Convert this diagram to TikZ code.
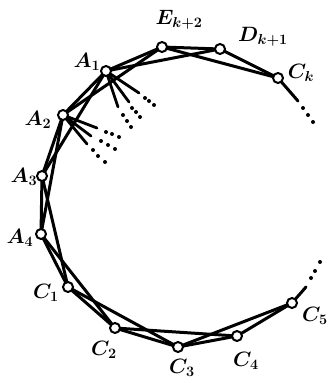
\documentclass[tikz,border=0pt]{standalone}
\begin{document}
\begin{tikzpicture}[x=1pt,y=-1pt,
  vtx/.style={circle,draw=black,fill=white,line width=2pt,inner sep=0pt,minimum size=10pt},
  edge/.style={line width=3pt,line cap=round},
  fan/.style={line width=2.8pt,line cap=round},
  dot/.style={circle,fill=black,inner sep=0pt,minimum size=4pt},
  lab/.style={font=\fontsize{22}{26}\selectfont\boldmath,inner sep=0pt}]
\useasboundingbox (0,0) rectangle (330,383);
% vertices positions
\coordinate (pCk) at (278,78);
\coordinate (pD) at (220,49);
\coordinate (pE) at (162,47);
\coordinate (pA1) at (106,71);
\coordinate (pA2) at (63,115);
\coordinate (pA3) at (42,176);
\coordinate (pA4) at (41,234);
\coordinate (pC1) at (68,287);
\coordinate (pC2) at (115,328);
\coordinate (pC3) at (178,347);
\coordinate (pC4) at (237,336);
\coordinate (pC5) at (292,303);
% edges
\foreach \a/\b in {pCk/pD,pCk/pE,pD/pE,pD/pA1,pE/pA1,pE/pA2,pA1/pA2,pA1/pA3,pA2/pA3,pA2/pA4,pA3/pA4,pA3/pC1,pA4/pC1,pA4/pC2,pC1/pC2,pC1/pC3,pC2/pC3,pC2/pC4,pC3/pC4,pC3/pC5,pC4/pC5}
  \draw[edge] (\a) -- (\b);
% tails
\coordinate (tk) at (298,101);
\coordinate (t5) at (306,287);
\draw[edge] (pCk) -- (tk);
\draw[edge] (pC5) -- (t5);
\node[dot] (dk1) at (303,108) {};
\node[dot] (dk2) at (308,115) {};
\node[dot] (dk3) at (313,122) {};
\node[dot] (d51) at (311,278) {};
\node[dot] (d52) at (315,271) {};
\node[dot] (d53) at (320,262) {};
% fans at A1
\coordinate (fa1) at (139,93);
\coordinate (fb1) at (129,102);
\coordinate (fc1) at (118,107);
\draw[fan] (pA1) -- (fa1);
\draw[fan] (pA1) -- (fb1);
\draw[fan] (pA1) -- (fc1);
\node[dot] (a1d1) at (145,98) {};
\node[dot] (a1d2) at (149,101) {};
\node[dot] (a1d3) at (154,105) {};
\node[dot] (a1d4) at (132,108) {};
\node[dot] (a1d5) at (136,112) {};
\node[dot] (a1d6) at (140,117) {};
\node[dot] (a1d7) at (123,115) {};
\node[dot] (a1d8) at (127,121) {};
\node[dot] (a1d9) at (131,127) {};
% fans at A2
\coordinate (fa2) at (97,128);
\coordinate (fb2) at (91,136);
\coordinate (fc2) at (87,144);
\draw[fan] (pA2) -- (fa2);
\draw[fan] (pA2) -- (fb2);
\draw[fan] (pA2) -- (fc2);
\node[dot] (a2d1) at (106,132) {};
\node[dot] (a2d2) at (112,134) {};
\node[dot] (a2d3) at (119,137) {};
\node[dot] (a2d4) at (101,141) {};
\node[dot] (a2d5) at (108,145) {};
\node[dot] (a2d6) at (115,149) {};
\node[dot] (a2d7) at (93,150) {};
\node[dot] (a2d8) at (98,156) {};
\node[dot] (a2d9) at (105,162) {};
% vertex circles
\node[vtx] (Ck) at (pCk) {};
\node[vtx] (D) at (pD) {};
\node[vtx] (E) at (pE) {};
\node[vtx] (A1) at (pA1) {};
\node[vtx] (A2) at (pA2) {};
\node[vtx] (A3) at (pA3) {};
\node[vtx] (A4) at (pA4) {};
\node[vtx] (C1) at (pC1) {};
\node[vtx] (C2) at (pC2) {};
\node[vtx] (C3) at (pC3) {};
\node[vtx] (C4) at (pC4) {};
\node[vtx] (C5) at (pC5) {};
% labels
\node[lab] (lE) at (179,20) {$E_{k+2}$};
\node[lab] (lD) at (263,37) {$D_{k+1}$};
\node[lab] (lCk) at (301,73) {$C_k$};
\node[lab] (lA1) at (87,62) {$A_1$};
\node[lab] (lA2) at (38,120) {$A_2$};
\node[lab] (lA3) at (24,177) {$A_3$};
\node[lab] (lA4) at (20,238) {$A_4$};
\node[lab] (lC1) at (46,293) {$C_1$};
\node[lab] (lC2) at (104,350) {$C_2$};
\node[lab] (lC3) at (182,368) {$C_3$};
\node[lab] (lC4) at (246,361) {$C_4$};
\node[lab] (lC5) at (315,316) {$C_5$};
\end{tikzpicture}
\end{document}
